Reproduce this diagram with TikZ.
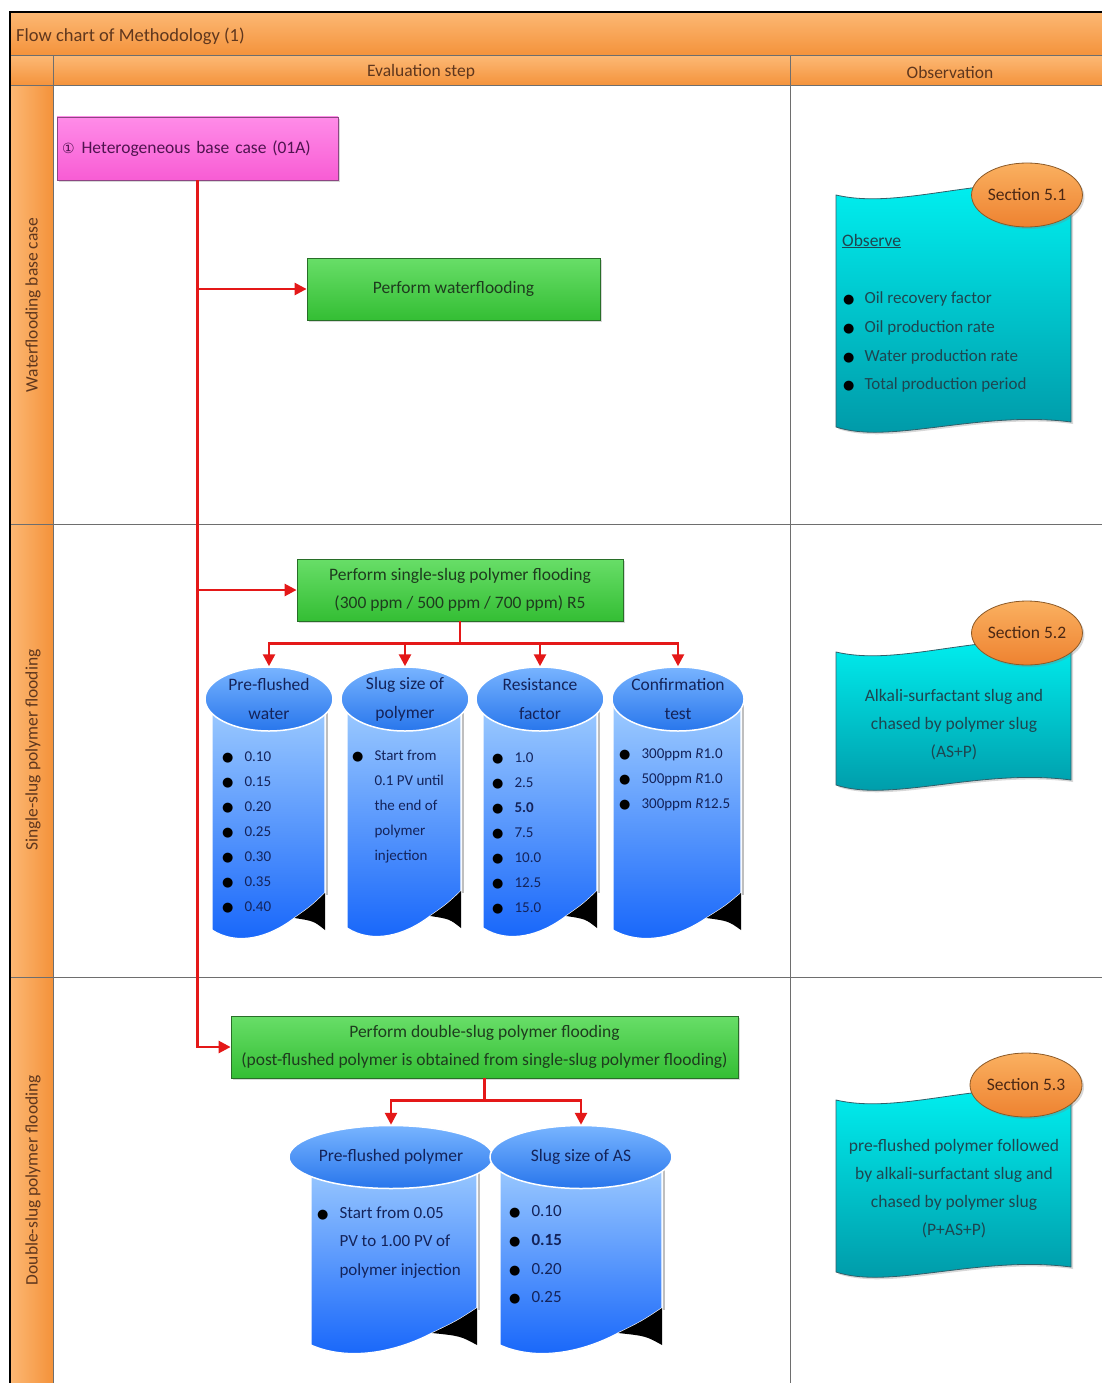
\documentclass[tikz,border=0pt]{standalone}
\usepackage{fontspec}
\setmainfont{Carlito}
\newfontfamily\dejavu{DejaVu Sans}
\usetikzlibrary{arrows.meta,shadows,shapes.geometric}
\definecolor{orTop}{RGB}{252,184,116}
\definecolor{orBot}{RGB}{244,146,58}
\definecolor{orLine}{RGB}{110,75,45}
\definecolor{hdrText}{RGB}{95,55,30}
\definecolor{pinkTop}{RGB}{255,140,232}
\definecolor{pinkBot}{RGB}{248,92,212}
\definecolor{pinkLine}{RGB}{140,70,130}
\definecolor{pinkText}{RGB}{80,20,80}
\definecolor{gTop}{RGB}{104,222,104}
\definecolor{gBot}{RGB}{52,190,52}
\definecolor{gLine}{RGB}{40,110,40}
\definecolor{gText}{RGB}{30,60,30}
\definecolor{redLn}{RGB}{228,24,24}
\definecolor{cylTop}{RGB}{160,205,255}
\definecolor{cylBot}{RGB}{20,100,250}
\definecolor{capTop}{RGB}{120,180,255}
\definecolor{capBot}{RGB}{40,118,236}
\definecolor{cylText}{RGB}{20,35,90}
\definecolor{docTop}{RGB}{0,242,242}
\definecolor{docBot}{RGB}{0,150,165}
\definecolor{docLine}{RGB}{50,95,105}
\definecolor{docText}{RGB}{30,70,80}
\definecolor{secTop}{RGB}{250,176,96}
\definecolor{secBot}{RGB}{238,130,48}
\definecolor{secLine}{RGB}{140,90,40}
\definecolor{secText}{RGB}{75,40,20}
\definecolor{gridLn}{RGB}{110,110,110}

\newcommand\bul{{\color{black}\dejavu\fontsize{13}{13}\selectfont ●}}
\newcommand\cylbody[4]{%
  \path[shade, top color=cylTop, bottom color=cylBot, draw=white, line width=1.2pt]
    (#1,#3) -- (#1,#4) .. controls ({#1+0.22*(#2-#1)},{#4+16}) and ({#1+0.5*(#2-#1)},{#4+8}) .. ({#2-0.27*(#2-#1)},{#4-12})
    .. controls ({#2-0.12*(#2-#1)},{#4-24}) .. (#2,{#4-37}) -- (#2,#3) -- cycle;
  \draw[gray!50, line width=1.5pt] ({#2+2},{#3+5}) -- ({#2+2},{#4-35});
  \fill[black] ({#2-0.27*(#2-#1)},{#4-12}) .. controls ({#2-0.12*(#2-#1)},{#4-24}) .. (#2,{#4-37})
    -- (#2,#4) .. controls ({#2-0.1*(#2-#1)},{#4-9}) .. ({#2-0.27*(#2-#1)},{#4-12}) -- cycle;
}
\newcommand\docshape[2]{%
  \path[shade, top color=docTop, bottom color=docBot, draw=docLine, line width=0.8pt,
        drop shadow={opacity=0.3, shadow xshift=2pt, shadow yshift=-2pt}]
    (836,#1) .. controls (900,{#1+15}) and (980,{#1-20}) .. (1071,{#1-10})
    -- (1071,{#2-5}) .. controls (980,{#2-17}) and (890,{#2+18}) .. (836,#2) -- cycle;
}

\tikzset{
  hdrtext/.style={font=\fontsize{17.5}{20}\selectfont, text=hdrText, inner sep=0pt},
  lanetext/.style={font=\fontsize{17.5}{20}\selectfont, text=hdrText, rotate=90, inner sep=0pt},
  gbox/.style={rectangle, draw=gLine, line width=0.8pt, top color=gTop, bottom color=gBot,
     text=gText, align=center, font=\fontsize{17.5}{28}\selectfont,
     drop shadow={opacity=0.3, shadow xshift=2pt, shadow yshift=-2pt}},
  pinkbox/.style={rectangle, draw=pinkLine, line width=0.8pt, top color=pinkTop, bottom color=pinkBot,
     text=pinkText, align=left, font=\fontsize{17.5}{20}\selectfont, inner sep=5pt,
     drop shadow={opacity=0.3, shadow xshift=2pt, shadow yshift=-2pt}},
  cylcap/.style={ellipse, draw=white, line width=1.5pt, top color=capTop, bottom color=capBot,
     text=cylText, align=center, font=\fontsize{17.5}{29}\selectfont, inner sep=0pt},
  blist/.style={anchor=west, inner sep=0pt, text=cylText, font=\fontsize{15}{25}\selectfont},
  secell/.style={ellipse, draw=secLine, line width=0.8pt, top color=secTop, bottom color=secBot,
     text=secText, font=\fontsize{17.5}{20}\selectfont, inner sep=0pt,
     drop shadow={opacity=0.3, shadow xshift=2pt, shadow yshift=-2pt}},
  doctext/.style={text=docText, font=\fontsize{17.5}{28}\selectfont, align=center, inner sep=0pt},
  redarr/.style={draw=redLn, line width=2.6pt, -{Triangle[length=12pt,width=12pt]}},
  gridline/.style={draw=gridLn, line width=1pt}
}

\begin{document}
\begin{tikzpicture}[x=1pt, y=-1pt]
\clip (0,0) rectangle (1102,1383);
\fill[white] (0,0) rectangle (1102,1383);

% header bands
\shade[top color=orTop, bottom color=orBot] (10,12) rectangle (1110,56);
\shade[top color=orTop, bottom color=orBot] (10,56) rectangle (1110,86);
\shade[left color=orTop, right color=orBot] (10,86) rectangle (53,1390);
\draw[gridline] (10,56) -- (1110,56);
\draw[gridline] (10,86) -- (1110,86);
\draw[gridline] (53,56) -- (53,1390);
\draw[gridline] (790,56) -- (790,1390);
\draw[gridline] (10,524) -- (1110,524);
\draw[gridline] (10,977) -- (1110,977);
\draw[black, line width=1.5pt] (10,1390) -- (10,12) -- (1110,12);

\node[hdrtext, anchor=west, font=\fontsize{18.5}{20}\selectfont] (title) at (16,36) {Flow chart of Methodology (1)};
\node[hdrtext] (evalh) at (421,72) {Evaluation step};
\node[hdrtext] (obsh) at (950,72) {Observation};
\node[lanetext] (lane1) at (33,305) {Waterflooding base case};
\node[lanetext] (lane2) at (33,750) {Single-slug polymer flooding};
\node[lanetext] (lane3) at (33,1180) {Double-slug polymer flooding};

% evaluation boxes
\node[pinkbox, minimum width=281pt, minimum height=63pt, text width=271pt] (base) at (197.5,148.5)
  {{\dejavu\fontsize{14}{14}\selectfont ①}\hspace{7pt}Heterogeneous base case (01A)};
\node[gbox, minimum width=293pt, minimum height=62pt] (wf) at (453.5,289) {Perform waterflooding};
\node[gbox, minimum width=326pt, minimum height=62pt] (ss) at (460,590)
  {Perform single-slug polymer flooding\\(300 ppm / 500 ppm / 700 ppm) R5};
\node[gbox, minimum width=507pt, minimum height=62pt] (ds) at (484.5,1047)
  {Perform double-slug polymer flooding\\(post-flushed polymer is obtained from single-slug polymer flooding)};

% cylinders (single slug)
\cylbody{212}{325}{700}{930}
\cylbody{347}{461}{700}{928}
\cylbody{483}{597}{700}{928}
\cylbody{613}{741}{700}{930}
\node[cylcap, minimum width=128pt, minimum height=64pt] (c1) at (269,699) {Pre-flushed\\water};
\node[cylcap, minimum width=128pt, minimum height=64pt] (c2) at (405,699) {Slug size of\\polymer};
\node[cylcap, minimum width=128pt, minimum height=64pt] (c3) at (540,699) {Resistance\\factor};
\node[cylcap, minimum width=131pt, minimum height=64pt] (c4) at (678,699) {Confirmation\\test};

\node[blist] (c1t) at (222,831) {\begin{tabular}{@{}l@{\hspace{11pt}}l@{}}
 \bul & 0.10\\ \bul & 0.15\\ \bul & 0.20\\ \bul & 0.25\\ \bul & 0.30\\ \bul & 0.35\\ \bul & 0.40\end{tabular}};
\node[blist] (c2t) at (352,805) {\begin{tabular}{@{}l@{\hspace{11pt}}l@{}}
 \bul & Start from\\ & 0.1 PV until\\ & the end of\\ & polymer\\ & injection\end{tabular}};
\node[blist] (c3t) at (492,832) {\begin{tabular}{@{}l@{\hspace{11pt}}l@{}}
 \bul & 1.0\\ \bul & 2.5\\ \bul & \textbf{5.0}\\ \bul & 7.5\\ \bul & 10.0\\ \bul & 12.5\\ \bul & 15.0\end{tabular}};
\node[blist] (c4t) at (619,778) {\begin{tabular}{@{}l@{\hspace{11pt}}l@{}}
 \bul & 300ppm \textit{R}1.0\\ \bul & 500ppm \textit{R}1.0\\ \bul & 300ppm \textit{R}12.5\end{tabular}};

% cylinders (double slug)
\cylbody{311}{477}{1158}{1345}
\cylbody{500}{662}{1158}{1345}
\node[cylcap, minimum width=186pt, minimum height=63pt] (c5) at (391,1157) {Pre-flushed polymer};
\node[cylcap, minimum width=182pt, minimum height=63pt] (c6) at (581,1157) {Slug size of AS};
\node[blist, font=\fontsize{17}{28.5}\selectfont] (c5t) at (317,1241) {\begin{tabular}{@{}l@{\hspace{11pt}}l@{}}
 \bul & Start from 0.05\\ & PV to 1.00 PV of\\ & polymer injection\end{tabular}};
\node[blist, font=\fontsize{17}{28.7}\selectfont] (c6t) at (509,1254) {\begin{tabular}{@{}l@{\hspace{11pt}}l@{}}
 \bul & 0.10\\ \bul & \textbf{0.15}\\ \bul & 0.20\\ \bul & 0.25\end{tabular}};

% connectors
\draw[redarr] (base.south) |- (ds.west);
\draw[redarr] (base.south |- wf.west) -- (wf.west);
\draw[redarr] (base.south |- ss.west) -- (ss.west);
\draw[redarr] (ss.south) -- ++(0,22) -| (c1.north);
\draw[redarr] (ss.south) -- ++(0,22) -| (c2.north);
\draw[redarr] (ss.south) -- ++(0,22) -| (c3.north);
\draw[redarr] (ss.south) -- ++(0,22) -| (c4.north);
\draw[redarr] (ds.south) -- ++(0,22) -| (c5.north);
\draw[redarr] (ds.south) -- ++(0,22) -| (c6.north);

% observation documents
\docshape{195}{427}
\node[secell, minimum width=110pt, minimum height=64pt] (s1) at (1027,195) {Section 5.1};
\node[doctext, anchor=west] (obs) at (842,241) {\underline{Observe}};
\node[blist, text=docText, font=\fontsize{17}{28.7}\selectfont] (d1t) at (843,341) {\begin{tabular}{@{}l@{\hspace{10pt}}l@{}}
 \bul & Oil recovery factor\\ \bul & Oil production rate\\ \bul & Water production rate\\ \bul & Total production period\end{tabular}};

\docshape{652}{785}
\node[secell, minimum width=110pt, minimum height=64pt] (s2) at (1027,633) {Section 5.2};
\node[doctext] (d2t) at (954,725) {Alkali-surfactant slug and\\chased by polymer slug\\(AS+P)};

\docshape{1100}{1272}
\node[secell, minimum width=112pt, minimum height=64pt] (s3) at (1026,1085) {Section 5.3};
\node[doctext] (d3t) at (954,1189) {pre-flushed polymer followed\\by alkali-surfactant slug and\\chased by polymer slug\\(P+AS+P)};
\end{tikzpicture}
\end{document}
